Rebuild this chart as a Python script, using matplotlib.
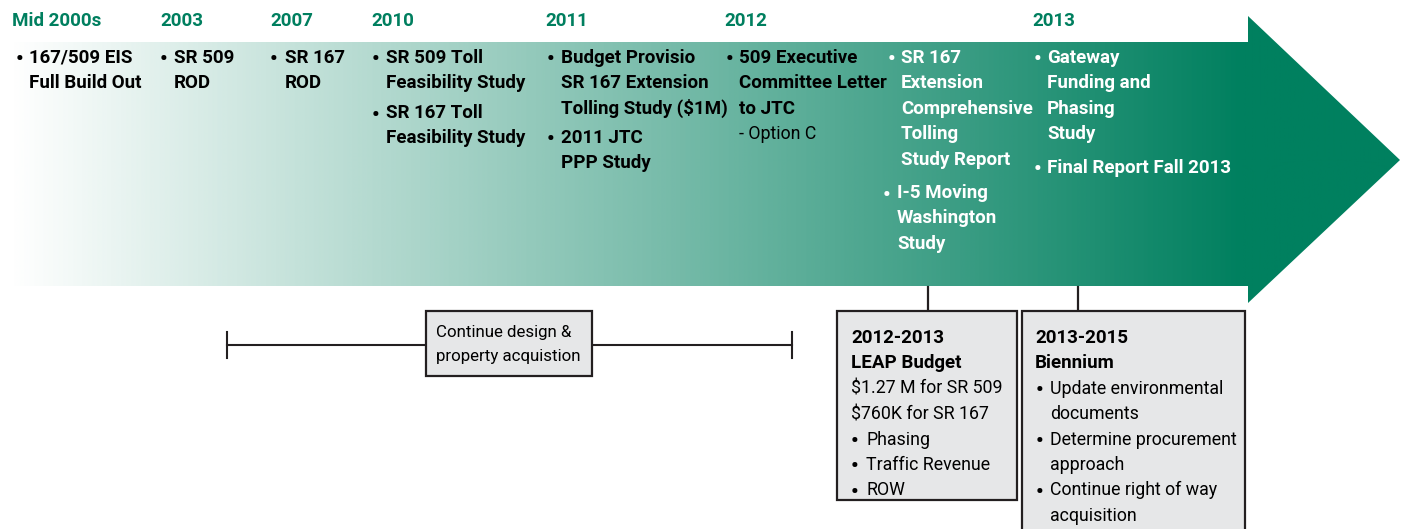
import matplotlib.pyplot as plt
import numpy as np
from matplotlib.colors import LinearSegmentedColormap
from matplotlib.patches import Polygon, Rectangle

# Timeline headings (year, left x of the column)
years = ['Mid 2000s', '2003', '2007', '2010', '2011', '2012', '2013']
year_x = [12, 160, 270, 371, 545, 724, 1032]

# Milestones inside the arrow: (bullet x, text x, first line y, lines, colour)
milestones = [
    (17, 29, 56, ['167/509 EIS', 'Full Build Out'], 'black'),
    (161, 174, 56, ['SR 509', 'ROD'], 'black'),
    (271, 285, 56, ['SR 167', 'ROD'], 'black'),
    (373, 386, 56, ['SR 509 Toll', 'Feasibility Study'], 'black'),
    (373, 386, 111, ['SR 167 Toll', 'Feasibility Study'], 'black'),
    (548, 561, 56, ['Budget Provisio', 'SR 167 Extension', 'Tolling Study ($1M)'], 'black'),
    (548, 561, 136, ['2011 JTC', 'PPP Study'], 'black'),
    (727, 739, 56, ['509 Executive', 'Committee Letter', 'to JTC'], 'black'),
    (889, 901, 56, ['SR 167', 'Extension', 'Comprehensive', 'Tolling', 'Study Report'], 'white'),
    (884, 897, 191, ['I-5 Moving', 'Washington', 'Study'], 'white'),
    (1035, 1047, 56, ['Gateway', 'Funding and', 'Phasing', 'Study'], 'white'),
    (1035, 1047, 166, ['Final Report Fall 2013'], 'white'),
]

leap_title = ['2012-2013', 'LEAP Budget']
leap_lines = ['$1.27 M for SR 509', '$760K for SR 167']
leap_bullets = [['Phasing'], ['Traffic Revenue'], ['ROW']]

bien_title = ['2013-2015', 'Biennium']
bien_bullets = [['Update environmental', 'documents'],
                ['Determine procurement', 'approach'],
                ['Continue right of way', 'acquisition']]

design_text = ['Continue design &', 'property acquistion']

green = '#007f5f'
box_face = '#e6e7e8'
edge = '#231f20'
font = ['Roboto', 'DejaVu Sans']
fs = 13.5     # bold text
fr = 12.8     # regular text
lh = 25.4
dy = 2        # baseline nudge

fig = plt.figure(figsize=(14.05, 5.29), dpi=100)
ax = fig.add_axes([0, 0, 1, 1])
ax.set_xlim(0, 1405)
ax.set_ylim(529, 0)
ax.axis('off')

# gradient arrow, white to green along the body
cmap = LinearSegmentedColormap.from_list('tl', ['#ffffff', '#00805f'])
xs = np.linspace(10, 1400, 1400)
vals = np.clip((xs - 10) / (1245 - 10), 0, 1)
img = ax.imshow(vals[np.newaxis, :], cmap=cmap, aspect='auto',
                extent=[10, 1400, 303, 16], vmin=0, vmax=1, zorder=1)
arrow = Polygon([(10, 42), (1248, 42), (1248, 16), (1400, 160),
                 (1248, 303), (1248, 286), (10, 286)],
                closed=True, facecolor='none', edgecolor='none')
ax.add_patch(arrow)
img.set_clip_path(arrow)


def bullet(x, y, col='black', z=4):
    ax.text(x, y + dy + 1.5, '•', color=col, fontsize=fs + 2, fontweight='bold',
            family=font, va='center', ha='left', zorder=z)


# year headings
for label, x in zip(years, year_x):
    ax.text(x, 19 + dy, label, color=green, fontsize=fs, fontweight='bold',
            family=font, va='center', ha='left')

# milestone bullets
for bx, tx, y0, lines, col in milestones:
    bullet(bx - 1, y0, col)
    for i, line in enumerate(lines):
        ax.text(tx, y0 + i * lh + dy, line, color=col, fontsize=fs,
                fontweight='bold', family=font, va='center', ha='left')
ax.text(739, 132 + dy, '- Option C', color='black', fontsize=fr, family=font,
        va='center', ha='left')

# design bracket
ax.plot([227, 792], [345, 345], color=edge, lw=1.5, zorder=2)
ax.plot([227, 227], [332, 358], color=edge, lw=1.5, zorder=2)
ax.plot([792, 792], [332, 358], color=edge, lw=1.5, zorder=2)
ax.add_patch(Rectangle((426, 311), 166, 65, facecolor=box_face,
                       edgecolor=edge, lw=1.6, zorder=3))
for i, line in enumerate(design_text):
    ax.text(436, 331 + i * 24 + dy, line, fontsize=12.2, family=font,
            va='center', ha='left', zorder=4)

# connectors
ax.plot([928, 928], [287, 311], color=edge, lw=1.6)
ax.plot([1078, 1078], [287, 311], color=edge, lw=1.6)

# LEAP budget box
ax.add_patch(Rectangle((837, 311), 180, 189, facecolor=box_face,
                       edgecolor=edge, lw=1.6, zorder=3))
y = 336
for line in leap_title:
    ax.text(851, y + dy, line, fontsize=fs, fontweight='bold', family=font,
            va='center', ha='left', zorder=4)
    y += lh
for line in leap_lines:
    ax.text(851, y + dy, line, fontsize=fr, family=font, va='center',
            ha='left', zorder=4)
    y += lh
for item in leap_bullets:
    bullet(851, y)
    for line in item:
        ax.text(866, y + dy, line, fontsize=fr, family=font, va='center',
                ha='left', zorder=4)
        y += lh

# Biennium box
ax.add_patch(Rectangle((1022, 311), 223, 230, facecolor=box_face,
                       edgecolor=edge, lw=1.6, zorder=3))
y = 336
for line in bien_title:
    ax.text(1035, y + dy, line, fontsize=fs, fontweight='bold', family=font,
            va='center', ha='left', zorder=4)
    y += lh
for item in bien_bullets:
    bullet(1036, y)
    for line in item:
        ax.text(1050, y + dy, line, fontsize=fr, family=font, va='center',
                ha='left', zorder=4)
        y += lh

fig.savefig('out.png', dpi=100)
